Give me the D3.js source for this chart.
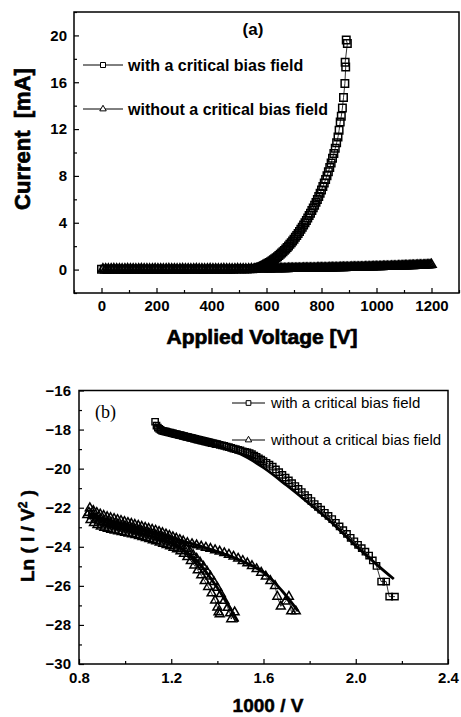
<!DOCTYPE html>
<html><head><meta charset="utf-8">
<script src="https://cdn.jsdelivr.net/npm/d3@7"></script>
<style>body{margin:0;background:#fff}svg{display:block}</style>
</head><body><svg id="chart" width="461" height="717"></svg>
<script>
// ---------- Panel (a): I-V data [voltage V, current mA] ----------
const aSquares = [[0,0.02],[10,0.02],[20,0.01],[30,0.02],[40,0.02],[50,0.03],[60,0.02],[70,0.02],[80,0.02],[90,0.01],[100,0.02],[110,0.02],[120,0.03],[130,0.02],[140,0.02],[150,0.02],[160,0.01],[170,0.02],[180,0.02],[190,0.03],[200,0.02],[210,0.02],[220,0.02],[230,0.01],[240,0.02],[250,0.02],[260,0.03],[270,0.02],[280,0.02],[290,0.02],[300,0.01],[310,0.02],[320,0.02],[330,0.03],[340,0.02],[350,0.02],[360,0.02],[370,0.01],[380,0.02],[390,0.02],[400,0.03],[410,0.02],[420,0.02],[430,0.02],[440,0.02],[450,0.03],[460,0.03],[470,0.03],[480,0.03],[490,0.04],[500,0.04],[510,0.04],[520,0.05],[530,0.05],[540,0.06],[550,0.07],[560,0.09],
[565,0.12],[570,0.15],[575,0.19],[580,0.24],[585,0.29],[590,0.35],[595,0.41],[600,0.47],[605,0.54],[610,0.61],[615,0.68],[620,0.76],[625,0.84],[630,0.92],[635,1.01],[640,1.10],[645,1.20],[650,1.30],[655,1.41],[660,1.52],[665,1.64],[670,1.76],[675,1.89],[680,2.02],[685,2.16],[690,2.30],[695,2.45],[700,2.60],[705,2.76],[710,2.92],[715,3.09],[720,3.26],[725,3.44],[730,3.62],[735,3.81],[740,4.00],[745,4.20],[750,4.40],[755,4.61],[760,4.82],[765,5.04],[770,5.27],[775,5.50],[780,5.74],[785,5.99],[790,6.25],[795,6.52],[800,6.80],[805,7.09],[810,7.39],[815,7.70],[820,8.02],[825,8.36],[830,8.72],[835,9.10],[840,9.50],[845,9.92],[850,10.36],[855,10.83],[860,11.33],
[864,11.9],[868,12.6],[872,13.1],[876,13.8],[880,14.7],[885,15.9],[888,17.3],[886,17.7],[894,19.3],[890,19.6]];

const aTriangles = [[5,0.05],[15,0.05],[25,0.04],[35,0.05],[45,0.06],[55,0.05],[65,0.05],[75,0.04],[85,0.05],[95,0.06],[105,0.05],[115,0.05],[125,0.04],[135,0.05],[145,0.06],[155,0.05],[165,0.05],[175,0.04],[185,0.05],[195,0.06],[205,0.05],[215,0.05],[225,0.04],[235,0.05],[245,0.06],[255,0.05],[265,0.05],[275,0.04],[285,0.05],[295,0.06],[305,0.05],[315,0.05],[325,0.04],[335,0.05],[345,0.06],[355,0.05],[365,0.05],[375,0.04],[385,0.05],[395,0.06],[405,0.05],[415,0.05],[425,0.04],[435,0.05],[445,0.06],[455,0.05],[465,0.05],[475,0.04],[485,0.05],[495,0.06],[505,0.05],[515,0.05],[525,0.04],[535,0.05],[545,0.06],[555,0.05],[565,0.05],[575,0.04],[585,0.05],[595,0.06],
[600,0.05],[605,0.05],[610,0.05],[615,0.05],[620,0.06],[625,0.06],[630,0.06],[635,0.06],[640,0.06],[645,0.06],[650,0.07],[655,0.07],[660,0.07],[665,0.07],[670,0.07],[675,0.07],[680,0.08],[685,0.08],[690,0.08],[695,0.08],
[700,0.08],[705,0.08],[710,0.09],[715,0.09],[720,0.09],[725,0.09],[730,0.09],[735,0.10],[740,0.10],[745,0.10],[750,0.10],[755,0.10],[760,0.11],[765,0.11],[770,0.11],[775,0.11],[780,0.11],[785,0.12],[790,0.12],[795,0.12],
[800,0.12],[805,0.12],[810,0.13],[815,0.13],[820,0.13],[825,0.13],[830,0.14],[835,0.14],[840,0.14],[845,0.14],[850,0.15],[855,0.15],[860,0.15],[865,0.15],[870,0.16],[875,0.16],[880,0.16],[885,0.16],[890,0.17],[895,0.17],
[900,0.17],[905,0.17],[910,0.18],[915,0.18],[920,0.18],[925,0.19],[930,0.19],[935,0.19],[940,0.20],[945,0.20],[950,0.20],[955,0.20],[960,0.21],[965,0.21],[970,0.21],[975,0.22],[980,0.22],[985,0.22],[990,0.23],[995,0.23],
[1000,0.23],[1005,0.23],[1010,0.24],[1015,0.24],[1020,0.24],[1025,0.25],[1030,0.25],[1035,0.25],[1040,0.26],[1045,0.26],[1050,0.26],[1055,0.27],[1060,0.27],[1065,0.27],[1070,0.28],[1075,0.28],[1080,0.29],[1085,0.29],[1090,0.30],[1095,0.30],
[1100,0.31],[1105,0.31],[1110,0.31],[1115,0.32],[1120,0.32],[1125,0.33],[1130,0.33],[1135,0.33],[1140,0.34],[1145,0.34],[1150,0.35],[1155,0.35],[1160,0.36],[1165,0.36],[1170,0.37],[1175,0.37],[1180,0.38],[1185,0.38],[1190,0.39],[1195,0.40],[1200,0.42]];

const aXTicks = [0,200,400,600,800,1000,1200];
const aXMinor = [-100,100,300,500,700,900,1100,1300];
const aYTicks = [0,4,8,12,16,20];
const aYMinor = [-2,2,6,10,14,18,22];

// ---------- Panel (b): FN plot data [1000/V, ln(I/V^2)] ----------
const bSquares = [[1.13,-17.6],[1.136,-17.8],[1.142,-17.9],[1.148,-17.97],[1.154,-18.02],[1.16,-18.06],
[1.166,-18.08],[1.172,-18.09],[1.178,-18.11],[1.184,-18.13],[1.19,-18.15],[1.196,-18.16],[1.202,-18.18],[1.208,-18.2],[1.214,-18.22],[1.22,-18.23],[1.226,-18.25],[1.232,-18.27],[1.238,-18.29],[1.244,-18.3],[1.25,-18.32],[1.256,-18.34],[1.262,-18.36],[1.268,-18.37],[1.274,-18.39],[1.28,-18.41],[1.286,-18.43],[1.292,-18.44],[1.298,-18.46],[1.304,-18.48],[1.31,-18.5],[1.316,-18.51],[1.322,-18.53],[1.328,-18.55],[1.334,-18.57],[1.34,-18.58],[1.346,-18.6],[1.352,-18.62],[1.358,-18.63],[1.364,-18.65],[1.37,-18.67],[1.376,-18.69],[1.382,-18.7],[1.388,-18.72],[1.394,-18.74],[1.40,-18.75],
[1.41,-18.78],[1.42,-18.81],[1.43,-18.84],[1.44,-18.87],[1.45,-18.9],[1.46,-18.94],[1.47,-18.97],[1.48,-19.0],[1.49,-19.04],[1.50,-19.07],[1.51,-19.11],[1.52,-19.14],[1.53,-19.17],[1.54,-19.2],[1.55,-19.26],[1.56,-19.33],[1.57,-19.4],[1.58,-19.47],[1.59,-19.54],[1.60,-19.61],
[1.613,-19.7],[1.626,-19.8],[1.64,-19.9],[1.654,-20.04],[1.668,-20.18],[1.682,-20.32],[1.696,-20.46],[1.71,-20.6],[1.724,-20.74],[1.738,-20.89],[1.752,-21.04],[1.766,-21.2],[1.78,-21.35],[1.794,-21.5],[1.808,-21.66],[1.822,-21.81],[1.836,-21.96],[1.85,-22.1],[1.866,-22.26],[1.882,-22.42],[1.898,-22.58],[1.914,-22.77],[1.93,-22.96],[1.946,-23.15],[1.962,-23.34],[1.978,-23.54],[1.994,-23.72],[2.01,-23.9],[2.026,-24.07],[2.042,-24.25],[2.058,-24.45],[2.074,-24.7],[2.09,-24.98],[2.11,-25.78],[2.132,-25.78],[2.145,-26.55],[2.17,-26.55]];

const bTriangles1 = [[0.836,-22.37],[0.85,-22.62],[0.865,-22.78],[0.88,-22.88],[0.895,-22.96],[0.91,-23.02],[0.925,-23.07],[0.94,-23.12],[0.955,-23.16],[0.97,-23.2],[0.985,-23.24],[1.0,-23.28],[1.015,-23.32],[1.03,-23.36],[1.045,-23.4],[1.06,-23.45],[1.075,-23.5],[1.09,-23.55],[1.105,-23.6],[1.12,-23.66],[1.135,-23.72],[1.15,-23.78],[1.165,-23.84],[1.18,-23.9],[1.195,-23.97],[1.21,-24.04],[1.225,-24.12],[1.24,-24.22],[1.255,-24.35],[1.27,-24.52],[1.285,-24.72],[1.3,-24.95],[1.315,-25.2],[1.33,-25.46],[1.345,-25.75],[1.36,-26.05],[1.375,-26.38],[1.39,-26.75],[1.4,-27.1],[1.405,-27.35],[1.41,-27.45]];

const bTriangles2 = [[0.843,-22.25],[0.858,-22.42],[0.873,-22.55],[0.888,-22.65],[0.903,-22.73],[0.918,-22.79],[0.933,-22.84],[0.948,-22.89],[0.963,-22.93],[0.978,-22.97],[0.993,-23.01],[1.008,-23.05],[1.023,-23.09],[1.038,-23.13],[1.053,-23.17],[1.068,-23.21],[1.083,-23.26],[1.098,-23.31],[1.113,-23.36],[1.128,-23.42],[1.143,-23.48],[1.158,-23.54],[1.173,-23.6],[1.188,-23.66],[1.203,-23.73],[1.218,-23.8],[1.233,-23.88],[1.248,-23.97],[1.265,-24.1],[1.28,-24.25],[1.295,-24.42],[1.31,-24.6],[1.325,-24.8],[1.34,-25.02],[1.355,-25.26],[1.37,-25.52],[1.385,-25.8],[1.4,-26.1],[1.415,-26.42],[1.43,-26.76],[1.445,-27.12],[1.455,-27.4],[1.46,-27.7],[1.475,-27.35]];

const bTriangles3 = [[0.847,-22.02],[0.862,-22.16],[0.877,-22.26],[0.892,-22.34],[0.907,-22.41],[0.922,-22.47],[0.937,-22.52],[0.952,-22.57],[0.967,-22.62],[0.982,-22.67],[0.997,-22.72],[1.012,-22.77],[1.027,-22.82],[1.042,-22.87],[1.057,-22.92],[1.072,-22.97],[1.087,-23.02],[1.102,-23.07],[1.117,-23.12],[1.132,-23.17],[1.147,-23.23],[1.162,-23.29],[1.177,-23.36],[1.192,-23.43],[1.207,-23.5],[1.222,-23.57],[1.237,-23.64],[1.252,-23.71],[1.27,-23.8],[1.29,-23.86],[1.31,-23.92],[1.33,-23.98],[1.35,-24.04],[1.37,-24.1],[1.39,-24.17],[1.41,-24.24],[1.43,-24.32],[1.45,-24.4],[1.47,-24.5],[1.49,-24.6],[1.51,-24.72],[1.53,-24.84],[1.55,-24.98],[1.57,-25.14],[1.59,-25.32],[1.61,-25.52],[1.63,-25.75],[1.65,-26.0],[1.66,-26.55],[1.675,-27.05],[1.695,-26.8],[1.71,-26.55],[1.72,-27.3],[1.74,-27.3]];

const bFitSquares = [[1.13,-17.75],[1.2,-18.2],[1.3,-18.55],[1.4,-18.85],[1.5,-19.25],[1.6,-19.95],[1.7,-20.85],[1.8,-21.8],[1.9,-22.8],[2.0,-23.95],[2.1,-25.0],[2.165,-25.65]];
const bFitTri1 = [[0.84,-22.4],[1.0,-23.1],[1.2,-23.8],[1.3,-24.6],[1.4,-26.1],[1.49,-27.85]];
const bFitTri2 = [[0.84,-22.3],[1.0,-22.95],[1.2,-23.55],[1.35,-24.05],[1.5,-24.7],[1.6,-25.3],[1.68,-26.25],[1.75,-27.3]];

const bXTicks = [0.8,1.2,1.6,2.0,2.4];
const bXMinor = [1.0,1.4,1.8,2.2];
const bYTicks = [-30,-28,-26,-24,-22,-20,-18,-16];
const bYMinor = [-29,-27,-25,-23,-21,-19,-17];

const legendLabels = ["with a critical bias field", "without a critical bias field"];

// ---------- drawing ----------
const SANS = "'Liberation Sans', Arial, Helvetica, sans-serif";
const SERIF = "'Liberation Serif', 'Times New Roman', serif";
const svg = d3.select("#chart");

const ax = d3.scaleLinear().domain([-100,1300]).range([74,459]);
const ay = d3.scaleLinear().domain([-2,22]).range([293,12]);
const bx = d3.scaleLinear().domain([0.8,2.4]).range([79,448]);
const by = d3.scaleLinear().domain([-30,-16]).range([664,390.5]);

function axes(x, y, xMaj, xMin, yMaj, yMin, xFmt, yFmt, padX, padY) {
  const g = svg.append("g");
  const [yb, yt] = y.range();
  const [xl, xr] = x.range();
  const style = s => { s.select(".domain").remove();
    s.selectAll("line").attr("stroke","#000").attr("stroke-width",1.2);
    s.selectAll("text").attr("font-family",SANS).attr("font-weight","bold").attr("font-size",15).attr("fill","#000"); };
  g.append("g").attr("transform",`translate(0,${yb})`)
    .call(d3.axisBottom(x).tickValues(xMin).tickSizeInner(-3).tickSizeOuter(0).tickFormat("")).call(style);
  g.append("g").attr("transform",`translate(0,${yb})`)
    .call(d3.axisBottom(x).tickValues(xMaj).tickSizeInner(-5).tickSizeOuter(0).tickPadding(padX).tickFormat(xFmt)).call(style);
  g.append("g").attr("transform",`translate(${xl},0)`)
    .call(d3.axisLeft(y).tickValues(yMin).tickSizeInner(-3).tickSizeOuter(0).tickFormat("")).call(style);
  g.append("g").attr("transform",`translate(${xl},0)`)
    .call(d3.axisLeft(y).tickValues(yMaj).tickSizeInner(-5).tickSizeOuter(0).tickPadding(padY).tickFormat(yFmt)).call(style);
  g.append("rect").attr("x",xl).attr("y",yt).attr("width",xr-xl).attr("height",yb-yt)
    .attr("fill","none").attr("stroke","#000").attr("stroke-width",1.5);
}

function series(data, x, y, sym, size, sw) {
  const g = svg.append("g");
  g.append("path").datum(data)
    .attr("d", d3.line().x(d=>x(d[0])).y(d=>y(d[1])))
    .attr("fill","none").attr("stroke","#000").attr("stroke-width",0.8);
  g.selectAll("path.m").data(data).join("path").attr("class","m")
    .attr("d", d3.symbol(sym, size))
    .attr("transform", d=>`translate(${x(d[0])},${y(d[1])})`)
    .attr("fill","none").attr("stroke","#000").attr("stroke-width",sw);
}

function fitLine(data, x, y) {
  svg.append("path").datum(data)
    .attr("d", d3.line().curve(d3.curveCatmullRom).x(d=>x(d[0])).y(d=>y(d[1])))
    .attr("fill","none").attr("stroke","#000").attr("stroke-width",2.8);
}

function legendItem(x0, x1, yy, sym, size, label, tx, fs, weight) {
  const g = svg.append("g");
  g.append("line").attr("x1",x0).attr("x2",x1).attr("y1",yy).attr("y2",yy)
    .attr("stroke","#000").attr("stroke-width",1);
  g.append("path").attr("d", d3.symbol(sym, size))
    .attr("transform",`translate(${(x0+x1)/2},${yy})`)
    .attr("fill","#fff").attr("stroke","#000").attr("stroke-width",1);
  g.append("text").attr("x",tx).attr("y",yy+fs*0.36).text(label)
    .attr("font-family",SANS).attr("font-weight",weight).attr("font-size",fs).attr("fill","#000");
}

// Panel (a)
axes(ax, ay, aXTicks, aXMinor, aYTicks, aYMinor, d3.format("d"), d3.format("d"), 7, 7);
series(aSquares, ax, ay, d3.symbolSquare, 56, 1.5);
series(aTriangles, ax, ay, d3.symbolTriangle, 36, 1.6);
legendItem(83, 123, 65, d3.symbolSquare, 25, legendLabels[0], 128, 16, "bold");
legendItem(83, 123, 109, d3.symbolTriangle, 18, legendLabels[1], 128, 16, "bold");
svg.append("text").attr("x",253).attr("y",35).attr("text-anchor","middle").text("(a)")
  .attr("font-family",SANS).attr("font-weight","bold").attr("font-size",17);
svg.append("text").attr("x",262).attr("y",344).attr("text-anchor","middle").text("Applied Voltage [V]")
  .attr("font-family",SANS).attr("font-weight","bold").attr("font-size",21)
  .attr("stroke","#000").attr("stroke-width",0.7);
svg.append("text").attr("transform","translate(30,139) rotate(-90)").attr("text-anchor","middle")
  .attr("xml:space","preserve").text("Current  [mA]")
  .attr("font-family",SANS).attr("font-weight","bold").attr("font-size",22)
  .attr("stroke","#000").attr("stroke-width",0.7);

// Panel (b)
axes(bx, by, bXTicks, bXMinor, bYTicks, bYMinor, d3.format(".1f"), d3.format("d"), 8, 8);
series(bSquares, bx, by, d3.symbolSquare, 40, 1.4);
series(bTriangles1, bx, by, d3.symbolTriangle, 34, 1.5);
series(bTriangles2, bx, by, d3.symbolTriangle, 34, 1.5);
series(bTriangles3, bx, by, d3.symbolTriangle, 34, 1.5);
fitLine(bFitSquares, bx, by);
fitLine(bFitTri1, bx, by);
fitLine(bFitTri2, bx, by);
legendItem(232, 265, 403, d3.symbolSquare, 22, legendLabels[0], 271, 15, "normal");
legendItem(232, 265, 440, d3.symbolTriangle, 18, legendLabels[1], 271, 15, "normal");
svg.append("text").attr("x",95).attr("y",418).text("(b)")
  .attr("font-family",SERIF).attr("font-size",18);
svg.append("text").attr("x",268).attr("y",712).attr("text-anchor","middle").text("1000 / V")
  .attr("font-family",SANS).attr("font-weight","bold").attr("font-size",19)
  .attr("stroke","#000").attr("stroke-width",0.5);
const yl = svg.append("text").attr("transform","translate(34,536) rotate(-90)").attr("text-anchor","middle")
  .attr("font-family",SANS).attr("font-weight","bold").attr("font-size",19)
  .attr("stroke","#000").attr("stroke-width",0.5);
yl.append("tspan").text("Ln ( I / V");
yl.append("tspan").attr("dy",-7).attr("font-size",12).text("2");
yl.append("tspan").attr("dy",7).text(" )");
</script></body></html>
